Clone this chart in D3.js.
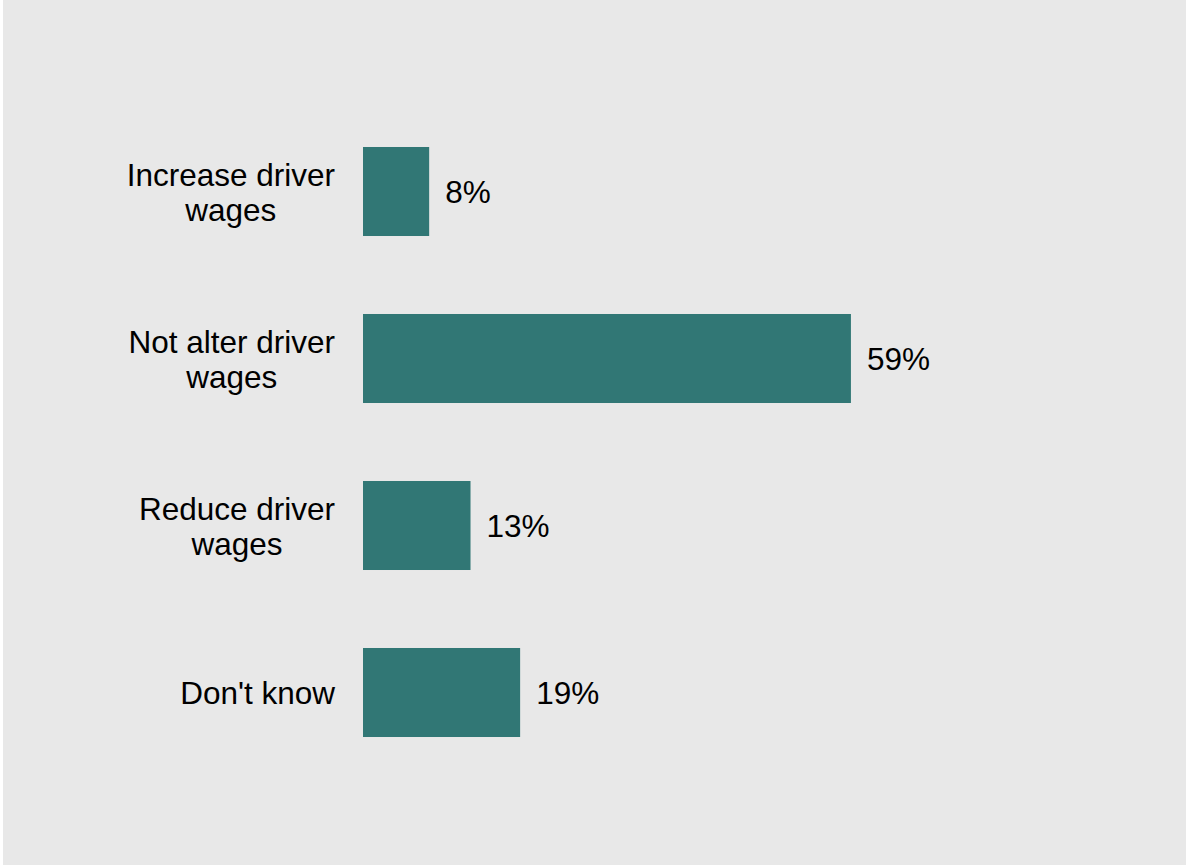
<!DOCTYPE html>
<html>
<head>
<meta charset="utf-8">
<script src="https://cdn.jsdelivr.net/npm/d3@7"></script>
<style>
  html, body { margin: 0; padding: 0; background: #ffffff; }
  svg { display: block; }
  text { font-family: "Liberation Sans", Arial, sans-serif; fill: #000; }
</style>
</head>
<body>
<svg id="chart" width="1187" height="865"></svg>
<script>
// Survey responses: expected effect on driver wages
const categories = [
  ["Increase driver", "wages"],
  ["Not alter driver", "wages"],
  ["Reduce driver", "wages"],
  ["Don't know"]
];
const categoryKeys = ["increase", "notAlter", "reduce", "dontKnow"];
const values = [8, 59, 13, 19];
const valueLabels = ["8%", "59%", "13%", "19%"];

const W = 1187, H = 865;
const svg = d3.select("#chart");

// panel background
svg.append("rect")
  .attr("x", 3).attr("y", 0)
  .attr("width", W - 4).attr("height", H)
  .attr("fill", "#e8e8e8");

const x = d3.scaleLinear().domain([0, 100]).range([363, 363 + 827]);
const y = d3.scaleBand()
  .domain(categoryKeys)
  .range([108, 776])
  .paddingInner(0.467)
  .paddingOuter(0.2335);

const rows = categoryKeys.map((k, i) => ({
  key: k, lines: categories[i], value: values[i], label: valueLabels[i]
}));

const fontSize = 31.5;
const lineH = 35;
const labelRight = 335;

svg.append("g").selectAll("rect")
  .data(rows)
  .join("rect")
  .attr("x", x(0))
  .attr("y", d => y(d.key))
  .attr("width", d => x(d.value) - x(0))
  .attr("height", y.bandwidth())
  .attr("fill", "#317775");

// category labels: each block ends at labelRight, lines centred within the block
const cat = svg.append("g").selectAll("text")
  .data(rows)
  .join("text")
  .attr("text-anchor", "middle")
  .attr("font-size", fontSize)
  .attr("y", d => y(d.key) + y.bandwidth() / 2);

cat.selectAll("tspan")
  .data(d => d.lines.map((t, i) => ({ t, i, n: d.lines.length })))
  .join("tspan")
  .attr("dy", d => d.i === 0 ? ((-(d.n - 1) * lineH / 2) + fontSize * 0.37) : lineH)
  .text(d => d.t);

cat.each(function () {
  const spans = d3.select(this).selectAll("tspan");
  let maxW = 0;
  spans.each(function () { maxW = Math.max(maxW, this.getComputedTextLength()); });
  spans.attr("x", labelRight - maxW / 2);
});

// value labels at bar ends
svg.append("g").selectAll("text")
  .data(rows)
  .join("text")
  .attr("x", d => x(d.value) + 16)
  .attr("y", d => y(d.key) + y.bandwidth() / 2)
  .attr("dy", "0.35em")
  .attr("font-size", fontSize)
  .text(d => d.label);
</script>
</body>
</html>
